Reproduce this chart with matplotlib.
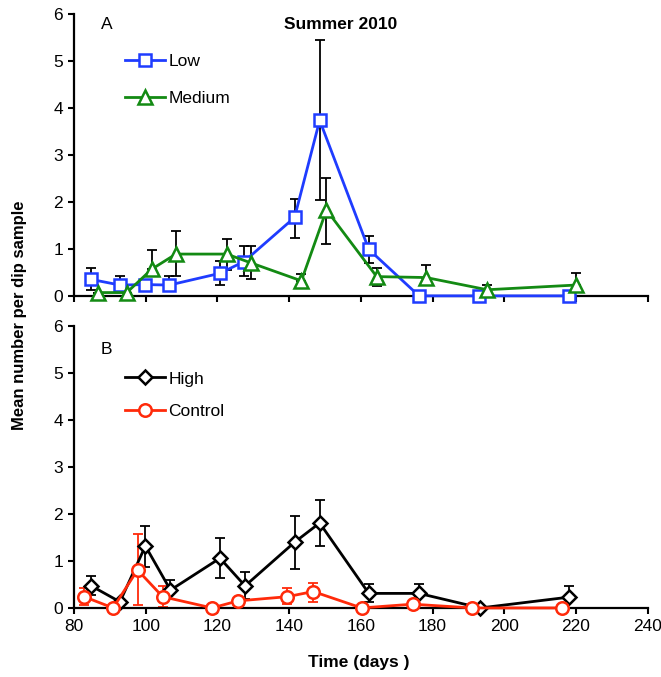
import matplotlib
matplotlib.use("Agg")
import matplotlib.pyplot as plt
import numpy as np

plt.rcParams['font.family'] = ['Liberation Sans', 'DejaVu Sans']

# Panel A
low_x = [84.8, 92.8, 99.9, 106.6, 120.7, 127.4, 141.5, 148.5, 162.2, 176.2, 193.0, 218.0]
low_y = [0.35, 0.23, 0.24, 0.23, 0.48, 0.73, 1.67, 3.74, 0.99, 0.0, 0.0, 0.0]
low_err_lo = [0.22, 0.0, 0.0, 0.0, 0.25, 0.30, 0.43, 1.70, 0.29, 0.0, 0.0, 0.0]
low_err_hi = [0.25, 0.20, 0.0, 0.20, 0.26, 0.33, 0.39, 1.71, 0.29, 0.0, 0.0, 0.0]

med_x = [86.7, 94.7, 101.7, 108.4, 122.6, 129.4, 143.4, 150.4, 164.4, 178.2, 195.2, 219.9]
med_y = [0.07, 0.07, 0.57, 0.89, 0.89, 0.70, 0.32, 1.83, 0.41, 0.39, 0.13, 0.23]
med_err_lo = [0.0, 0.0, 0.0, 0.46, 0.33, 0.34, 0.0, 0.72, 0.19, 0.0, 0.0, 0.0]
med_err_hi = [0.0, 0.0, 0.41, 0.49, 0.33, 0.36, 0.15, 0.69, 0.19, 0.26, 0.10, 0.25]

# Panel B
high_x = [84.8, 92.8, 99.9, 106.9, 120.7, 127.7, 141.5, 148.5, 162.2, 176.2, 193.3, 218.0]
high_y = [0.47, 0.13, 1.32, 0.38, 1.06, 0.47, 1.40, 1.81, 0.31, 0.31, 0.0, 0.23]
high_err_lo = [0.19, 0.0, 0.44, 0.0, 0.43, 0.27, 0.56, 0.48, 0.18, 0.0, 0.0, 0.0]
high_err_hi = [0.20, 0.0, 0.42, 0.22, 0.44, 0.29, 0.56, 0.50, 0.19, 0.19, 0.0, 0.24]

ctrl_x = [82.8, 90.9, 97.7, 104.7, 118.5, 125.7, 139.5, 146.7, 160.2, 174.4, 191.1, 216.0]
ctrl_y = [0.24, 0.0, 0.81, 0.24, 0.0, 0.15, 0.24, 0.35, 0.0, 0.08, 0.0, 0.0]
ctrl_err_lo = [0.18, 0.0, 0.75, 0.21, 0.0, 0.0, 0.16, 0.22, 0.0, 0.0, 0.0, 0.0]
ctrl_err_hi = [0.19, 0.0, 0.76, 0.23, 0.0, 0.0, 0.18, 0.19, 0.0, 0.0, 0.0, 0.0]

x_ticks = [80, 100, 120, 140, 160, 180, 200, 220, 240]
y_ticks = [0, 1, 2, 3, 4, 5, 6]

fig = plt.figure(figsize=(6.61, 6.77), dpi=100)
axA = fig.add_axes([0.112, 0.563, 0.868, 0.416])
axB = fig.add_axes([0.112, 0.102, 0.868, 0.416])

lw = 2.0
ms = 9
mew = 1.8

def series(ax, x, y, lo, hi, color, ecolor, marker, label, msz=ms):
    ax.errorbar(x, y, yerr=[lo, hi], fmt='none', ecolor=ecolor, elinewidth=1.3,
                capsize=3.8, capthick=1.3, zorder=2)
    ax.plot(x, y, color=color, lw=lw, marker=marker, markersize=msz,
            markerfacecolor='white', markeredgecolor=color, markeredgewidth=mew,
            label=label, zorder=3, clip_on=False)

series(axA, low_x, low_y, low_err_lo, low_err_hi, '#1f3cff', 'black', 's', 'Low')
series(axA, med_x, med_y, med_err_lo, med_err_hi, '#138a13', 'black', '^', 'Medium', msz=10)
series(axB, high_x, high_y, high_err_lo, high_err_hi, 'black', 'black', 'D', 'High', msz=7.5)
series(axB, ctrl_x, ctrl_y, ctrl_err_lo, ctrl_err_hi, '#ff2a0a', '#ff2a0a', 'o', 'Control')

for ax in (axA, axB):
    ax.set_xlim(80, 240)
    ax.set_ylim(0, 6)
    ax.set_xticks(x_ticks)
    ax.set_yticks(y_ticks)
    ax.spines['top'].set_visible(False)
    ax.spines['right'].set_visible(False)
    ax.spines['left'].set_linewidth(1.6)
    ax.spines['bottom'].set_linewidth(1.6)
    ax.tick_params(direction='out', length=4, width=1.5, labelsize=12.5, pad=4)

axA.tick_params(axis='x', labelbottom=False)

legA = axA.legend(loc='upper left', bbox_to_anchor=(0.089, 0.859), frameon=False,
                  fontsize=12.5, handlelength=2.3, labelspacing=1.28,
                  handletextpad=0.2, borderpad=0, borderaxespad=0)
legB = axB.legend(loc='upper left', bbox_to_anchor=(0.089, 0.84), frameon=False,
                  fontsize=12.5, handlelength=2.3, labelspacing=1.02,
                  handletextpad=0.2, borderpad=0, borderaxespad=0)

axA.text(0.057, 0.965, 'A', transform=axA.transAxes, fontsize=12.5,
         ha='center', va='center')
axA.text(0.465, 0.965, 'Summer 2010', transform=axA.transAxes, fontsize=12.5,
         ha='center', va='center', fontweight='bold')
axB.text(0.057, 0.918, 'B', transform=axB.transAxes, fontsize=12.5,
         ha='center', va='center')

fig.text(0.029, 0.535, 'Mean number per dip sample', rotation=90, fontsize=12,
         fontweight='bold', ha='center', va='center')
fig.text(0.543, 0.021, 'Time (days )', fontsize=12.5, fontweight='bold',
         ha='center', va='center')

fig.savefig('out.png', dpi=100)
